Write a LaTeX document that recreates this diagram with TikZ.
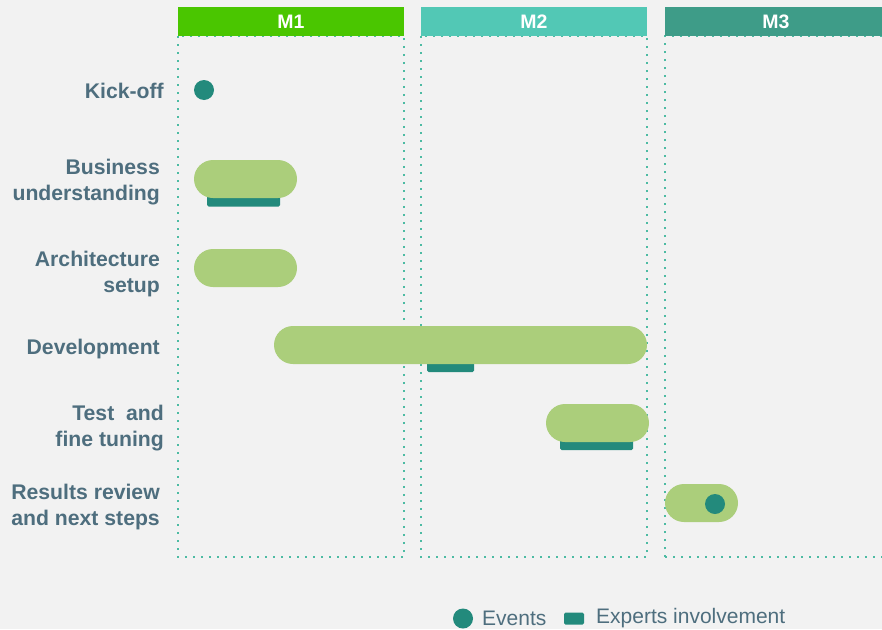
\documentclass[tikz,border=0pt]{standalone}
\usepackage{fontspec}
\setmainfont{Liberation Sans}
\definecolor{bgc}{HTML}{F2F2F2}
\definecolor{mone}{HTML}{4AC600}
\definecolor{mtwo}{HTML}{52C8B5}
\definecolor{mthree}{HTML}{3E9C88}
\definecolor{pillc}{HTML}{ABCE7B}
\definecolor{tealc}{HTML}{238A7C}
\definecolor{labc}{HTML}{4E6E7E}
\definecolor{dotc}{HTML}{4DBBA3}
\tikzset{
  hdr/.style={draw=none, minimum height=29pt, inner sep=0pt, text=white, font=\fontsize{19.5}{21}\selectfont\bfseries},
  colbox/.style={draw=dotc, line width=2.2pt, dash pattern=on 2.2pt off 5.8pt},
  lab/.style={anchor=east, align=right, text=labc, inner sep=0pt, font=\fontsize{21.2}{26}\selectfont\bfseries},
  pill/.style={fill=pillc, draw=none, minimum height=38pt, rounded corners=19pt, inner sep=0pt},
  expert/.style={fill=tealc, draw=none, rounded corners=1.5pt, inner sep=0pt},
  evt/.style={circle, fill=tealc, draw=none, minimum size=20pt, inner sep=0pt},
  leg/.style={anchor=west, text=labc, inner sep=0pt, font=\fontsize{21}{24}\selectfont}
}
\begin{document}
\begin{tikzpicture}[x=1pt,y=-1pt]
\fill[bgc] (0,0) rectangle (882,629);
\useasboundingbox (0,0) rectangle (882,629);
% column boxes
\draw[colbox] (178,36) rectangle (404,557);
\draw[colbox] (421,36) rectangle (647,557);
\draw[colbox] (665,557) -- (665,36) -- (886,36);
\draw[colbox] (665,557) -- (886,557);
% headers
\node[hdr, fill=mone, minimum width=226pt] (hM1) at (291,21.5) {M1};
\node[hdr, fill=mtwo, minimum width=226pt] (hM2) at (534,21.5) {M2};
\node[hdr, fill=mthree, minimum width=222pt] (hM3) at (776,21.5) {M3};
% labels
\node[lab] (lKick) at (164,91) {Kick-off};
\node[lab] (lBus) at (160,182) {Business\\understanding};
\node[lab] (lArch) at (160,274) {Architecture\\setup};
\node[lab] (lDev) at (160,349) {Development};
\node[lab] (lTest) at (164,428) {Test\ \ and\\fine tuning};
\node[lab] (lRes) at (160,507) {Results review\\and next steps};
% expert bars
\node[expert, minimum width=73pt, minimum height=11pt] (eBus) at (243.5,201) {};
\node[expert, minimum width=47pt, minimum height=12pt] (eDev) at (450.5,366) {};
\node[expert, minimum width=73pt, minimum height=12pt] (eTest) at (596.5,444) {};
% pills
\node[pill, minimum width=103pt] (pBus) at (245.5,179) {};
\node[pill, minimum width=103pt] (pArch) at (245.5,268) {};
\node[pill, minimum width=373pt] (pDev) at (460.5,345) {};
\node[pill, minimum width=103pt] (pTest) at (597.5,423) {};
\node[pill, minimum width=73pt] (pRes) at (701.5,503) {};
% events
\node[evt] (dKick) at (204,90) {};
\node[evt] (dRes) at (715,504) {};
% legend
\node[evt] (legE) at (463,618.5) {};
\node[leg] (legEt) at (482,618) {Events};
\node[expert, minimum width=20pt, minimum height=12pt] (legX) at (574,618.5) {};
\node[leg] (legXt) at (596,618.5) {Experts involvement};
\end{tikzpicture}
\end{document}
